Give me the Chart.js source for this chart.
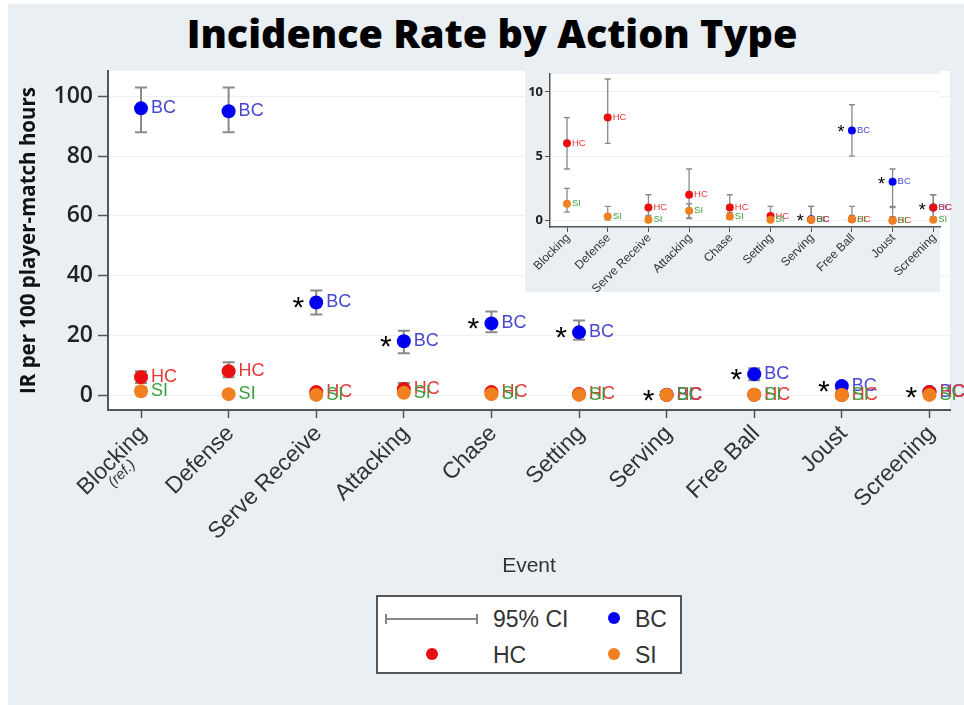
<!DOCTYPE html>
<html>
<head>
<meta charset="utf-8">
<script src="https://cdn.jsdelivr.net/npm/chart.js@4.4.1/dist/chart.umd.min.js"></script>
<style>
  body { margin: 0; background: #fff; }
  #wrap { position: relative; width: 964px; height: 705px; overflow: hidden; background: #fff; }
  #panel { position: absolute; left: 8px; top: 4px; width: 956px; height: 701px; background: #e9eff2; }
  #title { position: absolute; left: 10px; top: 9px; width: 964px; text-align: center;
    font: 800 39.5px "Open Sans", sans-serif; color: #000; line-height: 48px; }
  #mainChart { position: absolute; left: 0; top: 0; }
  #insetBg { position: absolute; left: 525px; top: 70px; width: 415px; height: 222px; background: #e9eff2; }
  #insetChart { position: absolute; left: 525px; top: 70px; }
  #legend { position: absolute; left: 376px; top: 595px; width: 302px; height: 75px;
    border: 2px solid #555; background: #fff; font: 23px "Liberation Sans", Arial, sans-serif; color: #333; }
  #legend .t { position: absolute; line-height: 26px; }
  #legend .dot { position: absolute; width: 12px; height: 12px; border-radius: 50%; }
  #legend .ci { position: absolute; left: 7px; top: 21px; width: 93px; height: 0; border-top: 2px solid #888; }
  #legend .ci:before, #legend .ci:after { content: ""; position: absolute; top: -6px; width: 2px; height: 10px; background: #888; }
  #legend .ci:before { left: 0; }
  #legend .ci:after { right: 0; }
</style>
</head>
<body>
<div id="wrap">
  <div id="panel"></div>
  <div id="title">Incidence Rate by Action Type</div>
  <canvas id="mainChart" width="964" height="705"></canvas>
  <div id="insetBg"></div>
  <canvas id="insetChart" width="430" height="222"></canvas>
  <div id="legend">
    <div class="ci"></div>
    <div class="t" style="left:115px;top:9px">95% CI</div>
    <div class="dot" style="left:230px;top:15px;background:#0000f0"></div>
    <div class="t" style="left:257px;top:9px">BC</div>
    <div class="dot" style="left:48px;top:51px;background:#e81010"></div>
    <div class="t" style="left:115px;top:45px">HC</div>
    <div class="dot" style="left:230px;top:51px;background:#f08020"></div>
    <div class="t" style="left:257px;top:45px">SI</div>
  </div>
</div>
<script>
const categories = ["Blocking", "Defense", "Serve Receive", "Attacking", "Chase",
  "Setting", "Serving", "Free Ball", "Joust", "Screening"];

// incidence rates (IR per 100 player-match hours) and 95% CI
const bcRate = [96, 95, 31, 18, 24, 21, 0.1, 7, 3, 1];
const bcLow = [88, 88, 27, 14, 21, 18.5, 0, 5, 1, 0.2];
const bcHigh = [103, 103, 35, 21.5, 28, 25, 1.1, 9, 4, 2];

const hcRate = [6, 8, 1, 2, 1, 0.35, 0.05, 0.1, 0, 1];
const hcLow = [4, 6, 0.3, 0.15, 0.4, 0.05, 0, 0, 0, 0.3];
const hcHigh = [8, 11, 2, 4, 2, 1.1, 1.1, 1.1, 1.1, 2];

const siRate = [1.3, 0.3, 0.05, 0.75, 0.3, 0.05, 0.05, 0.1, 0, 0.05];
const siLow = [0.65, 0.05, 0, 0.2, 0.1, 0, 0, 0, 0, 0];
const siHigh = [2.5, 1.1, 0.4, 1.3, 0.6, 0.3, 0.3, 0.4, 0.3, 0.3];

// * = significantly different from Blocking (ref.)
const sigStar = [false, false, true, true, true, true, true, true, true, true];

const mainTicks = [0, 20, 40, 60, 80, 100];
const insetTicks = [0, 5, 10];

const series = [
  { name: "BC", rate: bcRate, low: bcLow, high: bcHigh, color: "#0000f0", text: "#4848d0", order: 2 },
  { name: "HC", rate: hcRate, low: hcLow, high: hcHigh, color: "#e81010", text: "#e63838", order: 1 },
  { name: "SI", rate: siRate, low: siLow, high: siHigh, color: "#f08020", text: "#3c9e3c", order: 0 }
];

function makeDatasets(radius) {
  return series.map(s => ({
    label: s.name,
    data: s.rate.map((v, i) => ({ x: i, y: v })),
    backgroundColor: s.color,
    borderColor: s.color,
    pointRadius: radius,
    pointHoverRadius: radius,
    borderWidth: 0,
    order: s.order
  }));
}

// error bars, value labels and stars
function marksPlugin(o) {
  return {
    id: "marks",
    beforeDraw(chart) {
      const a = chart.chartArea;
      chart.ctx.save();
      chart.ctx.fillStyle = "#fff";
      chart.ctx.fillRect(a.left, a.top, a.right - a.left, a.bottom - a.top);
      chart.ctx.restore();
    },
    beforeDatasetsDraw(chart) {
      const { ctx, chartArea: a, scales: { x, y } } = chart;
      ctx.save();
      ctx.beginPath();
      ctx.rect(a.left, a.top - 1, a.right - a.left, a.bottom - a.top + 1);
      ctx.clip();
      ctx.strokeStyle = "#8a8a8a";
      ctx.lineWidth = o.barWidth;
      series.forEach(s => {
        s.rate.forEach((v, i) => {
          const px = x.getPixelForValue(i);
          const y1 = y.getPixelForValue(s.low[i]);
          const y2 = y.getPixelForValue(s.high[i]);
          ctx.beginPath();
          ctx.moveTo(px, y1); ctx.lineTo(px, y2);
          ctx.moveTo(px - o.cap, y1); ctx.lineTo(px + o.cap, y1);
          ctx.moveTo(px - o.cap, y2); ctx.lineTo(px + o.cap, y2);
          ctx.stroke();
        });
      });
      ctx.restore();
    },
    afterDatasetsDraw(chart) {
      const { ctx, chartArea: a, scales: { x, y } } = chart;
      ctx.save();
      ctx.textBaseline = "middle";
      ctx.textAlign = "left";
      ctx.font = o.labelFont;
      series.forEach(s => {
        ctx.fillStyle = s.text;
        s.rate.forEach((v, i) => {
          if (v > y.max || v < y.min) return;
          ctx.fillText(s.name, x.getPixelForValue(i) + o.labelGap, y.getPixelForValue(v));
        });
      });
      ctx.fillStyle = "#000";
      ctx.textAlign = "center";
      ctx.textBaseline = "alphabetic";
      ctx.font = o.starFont;
      sigStar.forEach((st, i) => {
        if (!st || bcRate[i] > y.max) return;
        ctx.fillText("*", x.getPixelForValue(i) - o.starGap, y.getPixelForValue(bcRate[i]) + o.starDrop);
      });
      // rotated category labels
      ctx.fillStyle = "#333";
      ctx.textAlign = "right";
      ctx.textBaseline = "middle";
      categories.forEach((c, i) => {
        ctx.save();
        ctx.translate(x.getPixelForValue(i) + o.tickDx, a.bottom + o.tickDy);
        ctx.rotate(-o.angle * Math.PI / 180);
        ctx.font = o.tickFont;
        ctx.fillText(c, 0, 0);
        if (o.refNote && i === 0) {
          ctx.font = o.refFont;
          ctx.fillText("(ref.)", o.refX, o.refY);
        }
        ctx.restore();
      });
      ctx.restore();
    }
  };
}

function fixedTicks(list) {
  return scale => { scale.ticks = list.map(v => ({ value: v })); };
}

function fixWidth(w) {
  return s => { s.width = w; s.paddingTop = 0; s.paddingBottom = 0; };
}

new Chart(document.getElementById("mainChart"), {
  type: "scatter",
  data: { datasets: makeDatasets(7) },
  options: {
    responsive: false,
    animation: false,
    layout: { padding: { top: 71, right: 14, left: 0, bottom: 0 } },
    plugins: { legend: { display: false }, tooltip: { enabled: false } },
    scales: {
      x: {
        type: "linear",
        min: -0.377,
        max: 9.235,
        afterBuildTicks: fixedTicks(categories.map((c, i) => i)),
        afterFit: s => { s.height = 295; },
        ticks: { display: false },
        grid: { drawOnChartArea: false, tickLength: 8, tickColor: "#555", tickWidth: 1.5 },
        border: { color: "#555", width: 2 },
        title: {
          display: true,
          text: "Event",
          color: "#333",
          font: { family: "Liberation Sans", size: 21 },
          padding: { bottom: 126 }
        }
      },
      y: {
        min: -5,
        max: 108.5,
        afterBuildTicks: fixedTicks(mainTicks),
        afterFit: fixWidth(108),
        ticks: {
          color: "#222",
          padding: 5,
          font: { family: "Open Sans", size: 23, weight: "600" }
        },
        grid: { color: "#edf1f4", tickLength: 10, tickColor: "#555", tickWidth: 1.5 },
        border: { color: "#555", width: 2 },
        title: {
          display: true,
          text: "IR per 100 player-match hours",
          color: "#111",
          font: { family: "Open Sans", size: 20.5, weight: "bold" },
          padding: { top: 17 }
        }
      }
    }
  },
  plugins: [marksPlugin({
    barWidth: 2, cap: 6, labelGap: 10, labelFont: '18px "Liberation Sans"',
    starFont: '30px "Liberation Sans"', starGap: 18, starDrop: 15,
    tickDx: 2, tickDy: 20, angle: 45, tickFont: '23px "Liberation Sans"',
    refNote: true, refFont: 'italic 15px "Liberation Sans"', refX: -30, refY: 16
  })]
});

new Chart(document.getElementById("insetChart"), {
  type: "scatter",
  data: { datasets: makeDatasets(4) },
  options: {
    responsive: false,
    animation: false,
    layout: { padding: { top: 0, right: 15, left: 0, bottom: 0 } },
    plugins: { legend: { display: false }, tooltip: { enabled: false } },
    scales: {
      x: {
        type: "linear",
        min: -0.418,
        max: 9.165,
        afterBuildTicks: fixedTicks(categories.map((c, i) => i)),
        afterFit: s => { s.height = 65; },
        ticks: { display: false },
        grid: { drawOnChartArea: false, tickLength: 5, tickColor: "#555" },
        border: { color: "#555", width: 1.5 }
      },
      y: {
        min: -0.51,
        max: 11.39,
        afterBuildTicks: fixedTicks(insetTicks),
        afterFit: fixWidth(25),
        ticks: {
          color: "#222",
          padding: 2,
          font: { family: "Open Sans", size: 13, weight: "bold" }
        },
        grid: { color: "#edf1f4", tickLength: 5, tickColor: "#555" },
        border: { color: "#555", width: 1.5 }
      }
    }
  },
  plugins: [marksPlugin({
    barWidth: 1.3, cap: 3, labelGap: 5, labelFont: '9.5px "Liberation Sans"',
    starFont: '18px "Liberation Sans"', starGap: 11, starDrop: 8,
    tickDx: 1, tickDy: 9, angle: 45, tickFont: '12px "Liberation Sans"',
    refNote: false
  })]
});
</script>
</body>
</html>
